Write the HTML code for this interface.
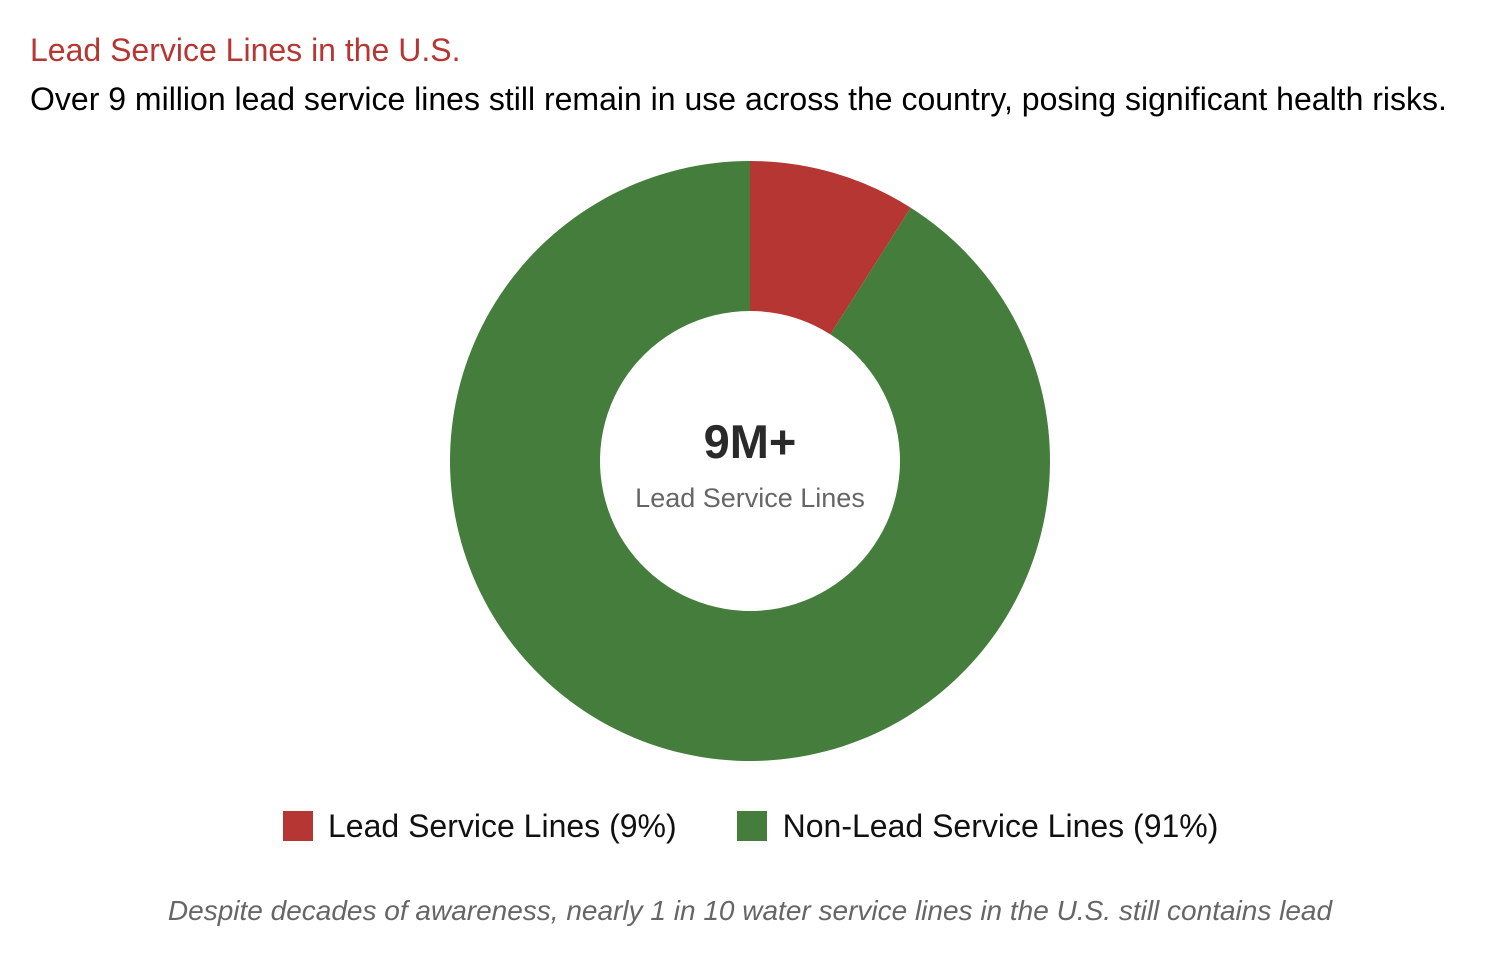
<!DOCTYPE html>
<html><head><meta charset="utf-8"><style>
body{margin:0;width:1498px;height:962px;background:#fff;font-family:"Liberation Sans",Arial,sans-serif;position:relative;overflow:hidden}
.t{position:absolute;white-space:nowrap;line-height:1.15}
</style></head><body>
<div class="t" style="left:30px;top:32px;font-size:32px;color:#b53632">Lead Service Lines in the U.S.</div>
<div class="t" style="left:30px;top:81px;font-size:32px;color:#000">Over 9 million lead service lines still remain in use across the country, posing significant health risks.</div>
<svg id="chart" width="1498" height="962" style="position:absolute;left:0;top:0"></svg>
<div class="t" style="left:283px;top:808px;font-size:32px;color:#111;display:flex;align-items:center">
<span style="display:flex;align-items:center"><span style="width:30px;height:30px;background:#b53632;display:inline-block;margin-right:15px"></span>Lead Service Lines (9%)</span>
<span style="display:flex;align-items:center;margin-left:60px"><span style="width:30px;height:30px;background:#457d3d;display:inline-block;margin-right:16px"></span>Non-Lead Service Lines (91%)</span>
</div>
<div class="t" style="left:0;width:1500px;text-align:center;top:895px;font-size:28px;font-style:italic;color:#666">Despite decades of awareness, nearly 1 in 10 water service lines in the U.S. still contains lead</div>
<script>
const categories=["Lead Service Lines","Non-Lead Service Lines"];
const values=[9,91];
const colors=["#b53632","#457d3d"];
const svg=document.getElementById('chart');const NS="http://www.w3.org/2000/svg";
const cx=750,cy=461,R=300,r=150;
const total=values.reduce((a,b)=>a+b,0);
let a0=0;
function pt(a,rad){return [cx+rad*Math.sin(a),cy-rad*Math.cos(a)];}
values.forEach((v,i)=>{
const a1=a0+v/total*2*Math.PI;const lg=(a1-a0)>Math.PI?1:0;
const [x0,y0]=pt(a0,R),[x1,y1]=pt(a1,R),[x2,y2]=pt(a1,r),[x3,y3]=pt(a0,r);
const p=document.createElementNS(NS,'path');
p.setAttribute('d',`M${x0},${y0}A${R},${R} 0 ${lg} 1 ${x1},${y1}L${x2},${y2}A${r},${r} 0 ${lg} 0 ${x3},${y3}Z`);
p.setAttribute('fill',colors[i]);


svg.appendChild(p);a0=a1;});
function txt(s,y,size,w,c,name){const t=document.createElementNS(NS,'text');t.setAttribute('x',cx);t.setAttribute('y',y);t.setAttribute('text-anchor','middle');t.setAttribute('font-size',size);t.setAttribute('font-weight',w);t.setAttribute('fill',c);t.setAttribute('font-family','Liberation Sans, Arial, sans-serif');t.textContent=s;


svg.appendChild(t);}
txt('9M+',458,47,'bold','#2a2a2a','center-value');
txt('Lead Service Lines',507,27,'normal','#666','center-label');
</script>
</body></html>
